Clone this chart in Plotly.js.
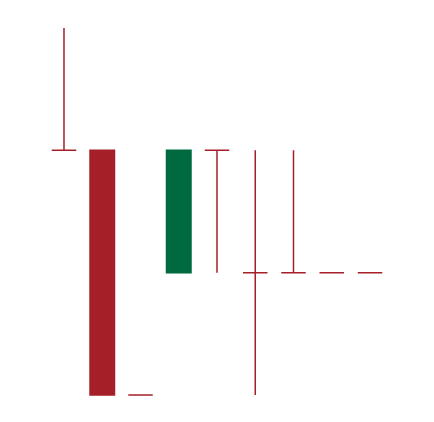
<!DOCTYPE html>
<html>
<head>
<meta charset="utf-8">
<script src="https://cdn.plot.ly/plotly-3.0.1.min.js"></script>
<style>html,body{margin:0;padding:0;background:#fff;}#chart{width:434px;height:422px;}</style>
</head>
<body>
<div id="chart"></div>
<script>
const xs    = [0, 1, 2, 3, 4, 5, 6, 7, 8];
const opens = [2, 2, 0, 1, 2, 1, 1, 1, 1];
const highs = [3, 2, 0, 2, 2, 2, 2, 1, 1];
const lows  = [2, 0, 0, 1, 1, 0, 1, 1, 1];
const closes= [2, 0, 0, 2, 2, 1, 1, 1, 1];
// direction drawn in the reference: 1 = green (rising), 0 = red
const isUp  = [0, 0, 0, 1, 0, 0, 0, 0, 0];

function pick(arr, want) { return arr.filter((_, i) => isUp[i] === want); }

const RED = '#a51f29', GREEN = '#006a3f';
function makeTrace(want) {
  const col = want ? GREEN : RED;
  return {
    type: 'candlestick',
    x: pick(xs, want), open: pick(opens, want), high: pick(highs, want),
    low: pick(lows, want), close: pick(closes, want),
    increasing: {line: {color: col, width: 1.5}, fillcolor: col},
    decreasing: {line: {color: col, width: 1.5}, fillcolor: col},
    hoverinfo: 'none'
  };
}
const layout = {
  width: 434, height: 422,
  margin: {l: 0, r: 0, t: 0, b: 0},
  paper_bgcolor: '#ffffff', plot_bgcolor: '#ffffff',
  showlegend: false,
  boxgap: 0.2, boxgroupgap: 0.2,
  xaxis: {visible: false, range: [-1.673, 9.673], rangeslider: {visible: false}},
  yaxis: {visible: false, range: [-0.2207, 3.229]}
};
Plotly.newPlot('chart', [makeTrace(0), makeTrace(1)], layout, {displayModeBar: false, staticPlot: true});
</script>
</body>
</html>
